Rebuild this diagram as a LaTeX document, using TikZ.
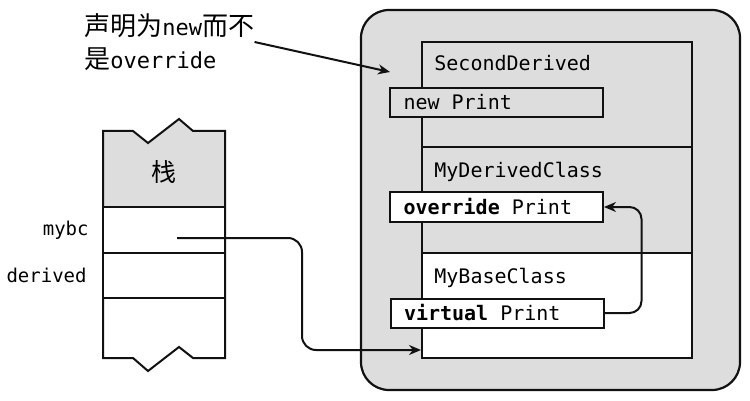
\documentclass[tikz,border=0pt]{standalone}
\usepackage{fontspec}
\setmonofont{DejaVu Sans Mono}
\newfontfamily\cjk{Noto Sans CJK SC}
\usetikzlibrary{arrows.meta, positioning, calc}
\definecolor{colInk}{HTML}{111111}
\definecolor{colDots}{HTML}{DDDDDD}
\newcommand{\codefont}{\ttfamily\fontsize{10}{12}\selectfont}
\newcommand{\msp}{\hspace*{0.602em}}
\tikzset{
  % Heap region (rounded outer box)
  heapbox/.style={
    draw=colInk, line width=1.1pt, rounded corners=14pt,
    fill=colDots, minimum width=189.5pt, minimum height=190pt,
  },
  % Class parts of the object
  classbox/.style={draw=colInk, line width=1pt, minimum width=135pt, inner sep=0pt},
  cShade/.style={classbox, fill=colDots},
  cPlain/.style={classbox, fill=white},
  clabel/.style={anchor=base west, inner sep=0pt, font=\codefont},
  % Method slots
  mbox/.style={
    draw=colInk, line width=1pt, minimum height=14.5pt,
    text width=93pt, inner xsep=6.75pt, inner ysep=0pt,
    align=left, font=\codefont,
  },
  % Stack cells
  stackline/.style={draw=colInk, line width=1pt},
  cell/.style={stackline, minimum width=61pt, inner sep=0pt, fill=white},
  vlabel/.style={inner sep=0pt, font=\ttfamily\fontsize{9.5}{11}\selectfont},
  % Arrows
  ptr/.style={-{Stealth[length=6pt,width=5pt]}, line width=1pt, colInk},
}

\begin{document}
\begin{tikzpicture}[x=0.5pt, y=-0.5pt]
\useasboundingbox (0,0) rectangle (750,401);

%% ═══════════════════════════════════════════════════════════════════
%% HEAP – object with its three class parts
%% ═══════════════════════════════════════════════════════════════════

\node[heapbox] (heap) at (550.5,200) {};

\node[cShade, minimum height=52.5pt] (sd)  at (557,94.5)  {};
\node[cShade, minimum height=53pt]   (mdc) at (557,200)   {};
\node[cPlain, minimum height=52.5pt] (mbc) at (557,305.5) {};

\node[clabel] (sdName)  at (434,71)  {SecondDerived};
\node[clabel] (mdcName) at (434,177) {MyDerivedClass};
\node[clabel] (mbcName) at (434,283) {MyBaseClass};

\node[mbox, fill=colDots] (newP) at (496.5,102.5) {new\msp Print};
\node[mbox, fill=white]   (ovrP) at (496.5,207)   {\textbf{override}\msp Print};
\node[mbox, fill=white]   (virP) at (497,313)     {\textbf{virtual}\msp Print};

% virtual slot points up to the override
\draw[ptr, rounded corners=6pt] (virP.east) -- ++(37,0) |- (ovrP.east);

%% ═══════════════════════════════════════════════════════════════════
%% STACK – torn at top and bottom
%% ═══════════════════════════════════════════════════════════════════

\fill[colDots] (103,131) -- (133,131) -- (148,143) -- (179,119) -- (193,131)
  -- (225,131) -- (225,207) -- (103,207) -- cycle;
\draw[stackline] (103,131) -- (133,131) -- (148,143) -- (179,119) -- (193,131)
  -- (225,131) -- (225,358) -- (193,358) -- (179,347) -- (148,371)
  -- (133,358) -- (103,358) -- cycle;

\node[font=\cjk\fontsize{12.5}{14}\selectfont] (stackName) at (164,172) {栈};

\node[cell, minimum height=23pt]   (mybcCell) at (164,230)   {};
\node[cell, minimum height=22.5pt] (derCell)  at (164,275.5) {};

\node[vlabel, left=6.5pt of mybcCell] (mybcName) {mybc};
\node[vlabel, left=7.5pt of derCell]  (derName)  {derived};

% reference from mybc into the heap object
\coordinate (mybcRef) at (177,238);
\coordinate (bend) at (302,350);
\draw[ptr, rounded corners=7pt] (mybcRef) -| (bend) -- (mbc.west |- bend);

%% ═══════════════════════════════════════════════════════════════════
%% NOTE
%% ═══════════════════════════════════════════════════════════════════

\node[anchor=west, align=left, inner sep=0pt,
      font=\cjk\fontsize{13}{16.75}\selectfont] (note) at (84,42)
  {声明为{\ttfamily\fontsize{11}{13}\selectfont new}而不\\
   是{\ttfamily\fontsize{11}{13}\selectfont override}};

\coordinate (noteTip) at (390,72);
\draw[ptr] (note.east) -- (noteTip);

\end{tikzpicture}
\end{document}
